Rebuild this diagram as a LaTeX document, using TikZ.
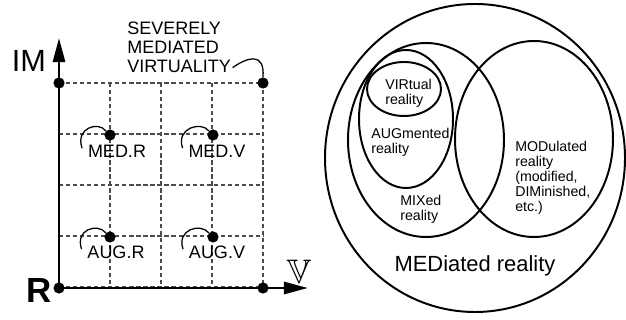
\documentclass[tikz,border=0pt]{standalone}
\usepackage{amssymb}
\usepackage{fontspec}
\setmainfont{Liberation Sans}
\usetikzlibrary{arrows.meta}

\begin{document}
\begin{tikzpicture}[x=0.025cm, y=-0.025cm,
    every node/.style={font=\fontsize{12.8}{13.5}\selectfont, inner sep=1pt},
    axis/.style={line width=2pt, -{Triangle[length=0.6cm, width=0.3cm]}},
    gridline/.style={densely dashed, line width=0.75pt, black!70},
    dot/.style={circle, fill=black, inner sep=0pt, minimum size=0.28cm},
    curl/.style={line width=0.9pt},
    venn/.style={line width=1.4pt},
    vtext/.style={font=\fontsize{10.1}{10.6}\selectfont, align=left, anchor=west, inner sep=0pt}
  ]
  \useasboundingbox (0,0) rectangle (626,320);

  \foreach \k in {0,...,4} {
    \draw[gridline] (59+51*\k,83) -- (59+51*\k,288);
    \draw[gridline] (59,83+51*\k) -- (263,83+51*\k);
  }

  \node[dot] (r) at (59,288) {};
  \node[dot] (v) at (263,288) {};
  \node[dot] (m) at (59,83) {};
  \node[dot] (smv) at (263,83) {};
  \node[dot] (medr) at (110,135) {};
  \node[dot] (medv) at (213,135) {};
  \node[dot] (augr) at (110,237) {};
  \node[dot] (augv) at (213,237) {};

  \coordinate (mtip) at (59,38);
  \coordinate (vtip) at (308,288);
  \draw[axis] (r.center) -- (mtip);
  \draw[axis] (r.center) -- (vtip);

  \node (lr) at (39,291) {\fontsize{24.8}{25}\selectfont\bfseries R};
  \node (lm) at (29,61) {\fontsize{21.8}{22}\selectfont IM};
  \node[scale=1.4] (lv) at (299,272) {\fontsize{17.28}{18}\selectfont$\mathbb{V}$};

  \node (medrl) at (117,151) {MED.R};
  \node (medvl) at (217,151) {MED.V};
  \node (augrl) at (116,252) {AUG.R};
  \node (augvl) at (217,252) {AUG.V};
  \node[align=left, anchor=north west, inner sep=0pt] (smvl) at (127,22) {SEVERELY\\MEDIATED\\VIRTUALITY};

  \draw[curl] (medr.north west) .. controls +(-8,-10) and +(-7,-20) .. ([xshift=-3pt,yshift=2pt]medrl.west);
  \draw[curl] (medv.north west) .. controls +(-8,-10) and +(-7,-20) .. ([xshift=-3pt,yshift=2pt]medvl.west);
  \draw[curl] (augr.north west) .. controls +(-8,-10) and +(-7,-20) .. ([xshift=-3pt,yshift=2pt]augrl.west);
  \draw[curl] (augv.north west) .. controls +(-8,-10) and +(-7,-20) .. ([xshift=-3pt,yshift=2pt]augvl.west);
  \draw[curl] ([xshift=1pt,yshift=4pt]smvl.south east) .. controls +(14,-10) and +(2,-26) .. (smv.north);

  \draw[venn] (475,158) ellipse [x radius=150, y radius=154];
  \draw[venn] (426,140) ellipse [x radius=78, y radius=97];
  \draw[venn] (534,139) ellipse [x radius=79, y radius=98];
  \draw[venn] (406,119) ellipse [x radius=47, y radius=69];
  \draw[venn] (404,89) ellipse [x radius=37, y radius=27];

  \node[vtext] (virl) at (385,93) {VIRtual\\reality};
  \node[vtext] (augl) at (371,142) {AUGmented\\reality};
  \node[vtext] (mixl) at (400,209) {MIXed\\reality};
  \node[vtext] (modl) at (515,178) {MODulated\\reality\\(modified,\\DIMinished,\\etc.)};
  \node[font=\fontsize{15.6}{16}\selectfont] (medl) at (475,266) {MEDiated reality};
\end{tikzpicture}
\end{document}
